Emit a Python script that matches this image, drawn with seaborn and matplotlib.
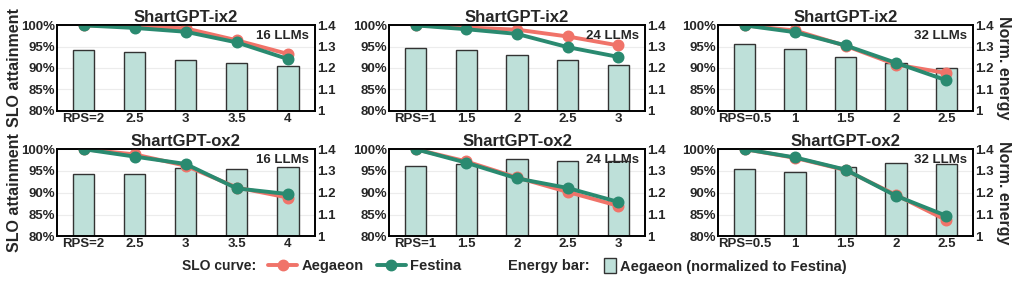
import numpy as np
import pandas as pd
import seaborn as sns
import matplotlib.pyplot as plt
from matplotlib.lines import Line2D
from matplotlib.patches import Patch

sns.set_theme(style="white")
plt.rcParams.update({"font.family": ["Liberation Sans", "DejaVu Sans"],
                     "font.weight": "bold",
                     "axes.labelweight": "bold",
                     "axes.titleweight": "bold"})

# x tick labels
rps_16 = ["RPS=2", "2.5", "3", "3.5", "4"]
rps_24 = ["RPS=1", "1.5", "2", "2.5", "3"]
rps_32 = ["RPS=0.5", "1", "1.5", "2", "2.5"]

# SLO attainment (%) -- ShartGPT-ix2
ix2_16_aeg = [100, 99.8, 99.3, 96.5, 93.3]
ix2_16_fes = [100, 99.4, 98.5, 96.0, 92.1]
ix2_24_aeg = [100, 99.5, 99.0, 97.4, 95.3]
ix2_24_fes = [100, 99.1, 98.0, 94.9, 92.6]
ix2_32_aeg = [100, 98.8, 95.2, 90.8, 88.8]
ix2_32_fes = [100, 98.4, 95.3, 91.2, 87.1]
# SLO attainment (%) -- ShartGPT-ox2
ox2_16_aeg = [100, 98.8, 96.2, 91.2, 88.9]
ox2_16_fes = [100, 98.3, 96.6, 91.0, 89.7]
ox2_24_aeg = [100, 97.2, 93.5, 90.2, 87.0]
ox2_24_fes = [100, 96.9, 93.3, 91.1, 87.9]
ox2_32_aeg = [100, 98.0, 95.2, 89.5, 83.7]
ox2_32_fes = [100, 98.1, 95.3, 89.3, 84.7]

# normalized energy (Aegaeon / Festina)
ix2_16_energy = [1.283, 1.273, 1.239, 1.223, 1.209]
ix2_24_energy = [1.294, 1.286, 1.261, 1.238, 1.213]
ix2_32_energy = [1.311, 1.289, 1.250, 1.223, 1.198]
ox2_16_energy = [1.284, 1.285, 1.315, 1.308, 1.320]
ox2_24_energy = [1.325, 1.333, 1.354, 1.348, 1.345]
ox2_32_energy = [1.310, 1.296, 1.318, 1.337, 1.330]

panels = [
    ("ShartGPT-ix2", "16 LLMs", rps_16, ix2_16_aeg, ix2_16_fes, ix2_16_energy),
    ("ShartGPT-ix2", "24 LLMs", rps_24, ix2_24_aeg, ix2_24_fes, ix2_24_energy),
    ("ShartGPT-ix2", "32 LLMs", rps_32, ix2_32_aeg, ix2_32_fes, ix2_32_energy),
    ("ShartGPT-ox2", "16 LLMs", rps_16, ox2_16_aeg, ox2_16_fes, ox2_16_energy),
    ("ShartGPT-ox2", "24 LLMs", rps_24, ox2_24_aeg, ox2_24_fes, ox2_24_energy),
    ("ShartGPT-ox2", "32 LLMs", rps_32, ox2_32_aeg, ox2_32_fes, ox2_32_energy),
]

c_aeg = "#F07369"
c_fes = "#2A8A70"
c_bar = "#BEE0D9"

fig = plt.figure(figsize=(10.19, 2.82), dpi=100)
lefts = [0.056, 0.382, 0.705]
widths = [0.253, 0.251, 0.250]
bottoms = [0.608, 0.162]
heights = [0.302, 0.309]

for i, (title, llms, rps, aeg, fes, energy) in enumerate(panels):
    r, c = divmod(i, 3)
    ax = fig.add_axes([lefts[c], bottoms[r], widths[c], heights[r]])
    ax2 = ax.twinx()

    bars = pd.DataFrame({"rps": rps, "energy": energy})
    sns.barplot(data=bars, x="rps", y="energy", order=rps, color=c_bar,
                width=0.42, edgecolor="#333333", linewidth=1.0,
                saturation=1, ax=ax2)
    ax2.set_ylim(1, 1.4)
    ax2.set_yticks([1, 1.1, 1.2, 1.3, 1.4], ["1", "1.1", "1.2", "1.3", "1.4"])
    ax2.grid(axis="y", color="#ececec", linewidth=0.8)
    ax2.set_axisbelow(True)
    ax2.set_ylabel("Norm. energy" if c == 2 else "", fontsize=11.5,
                   rotation=270, labelpad=12)

    lines = pd.DataFrame({"rps": rps * 2, "slo": aeg + fes,
                          "system": ["Aegaeon"] * 5 + ["Festina"] * 5})
    sns.pointplot(data=lines, x="rps", y="slo", hue="system", order=rps,
                  palette={"Aegaeon": c_aeg, "Festina": c_fes},
                  markers="o", markersize=6.5, linewidth=2.8, legend=False,
                  ax=ax)
    ax.set_ylim(80, 100)
    ax.set_yticks([80, 85, 90, 95, 100], ["80%", "85%", "90%", "95%", "100%"])
    ax.set_xlim(-0.52, 4.53)
    ax2.set_xlim(-0.52, 4.53)
    ax.set_xticks(range(5), rps)
    ax.set_xlabel("")
    ax.set_ylabel("SLO attainment" if c == 0 else "", fontsize=11.5, labelpad=-1)
    ax.set_title(title, fontsize=12, pad=2)
    ax.text(0.975, 0.94, llms, transform=ax.transAxes, ha="right", va="top",
            fontsize=9.5)

    ax.set_zorder(ax2.get_zorder() + 1)
    ax.patch.set_visible(False)
    for a in (ax, ax2):
        a.tick_params(axis="both", labelsize=9.5, length=0, pad=1.5)
        for s in a.spines.values():
            s.set_color("black")
            s.set_linewidth(1.2)

fig.text(182 / 1019, 0.057, "SLO curve:", fontsize=10, va="center")
h_lines = [Line2D([], [], color=c_aeg, lw=2.8, marker="o", ms=7.5),
           Line2D([], [], color=c_fes, lw=2.8, marker="o", ms=7.5)]
fig.legend(h_lines, ["Aegaeon", "Festina"], loc="center left",
           bbox_to_anchor=(268 / 1019, 0.057), ncol=2, frameon=False,
           fontsize=10.5, handlelength=2.0, handletextpad=0.3,
           columnspacing=0.9, borderpad=0, borderaxespad=0)
fig.text(508 / 1019, 0.057, "Energy bar:", fontsize=10.5, va="center")
fig.legend([Patch(facecolor=c_bar, edgecolor="#333333", lw=1.0)],
           ["Aegaeon (normalized to Festina)"], loc="center left",
           bbox_to_anchor=(604 / 1019, 0.057), frameon=False, fontsize=10.5,
           handlelength=0.8, handleheight=1.2, handletextpad=0.3,
           borderpad=0, borderaxespad=0)

fig.savefig("out.png", dpi=100)
